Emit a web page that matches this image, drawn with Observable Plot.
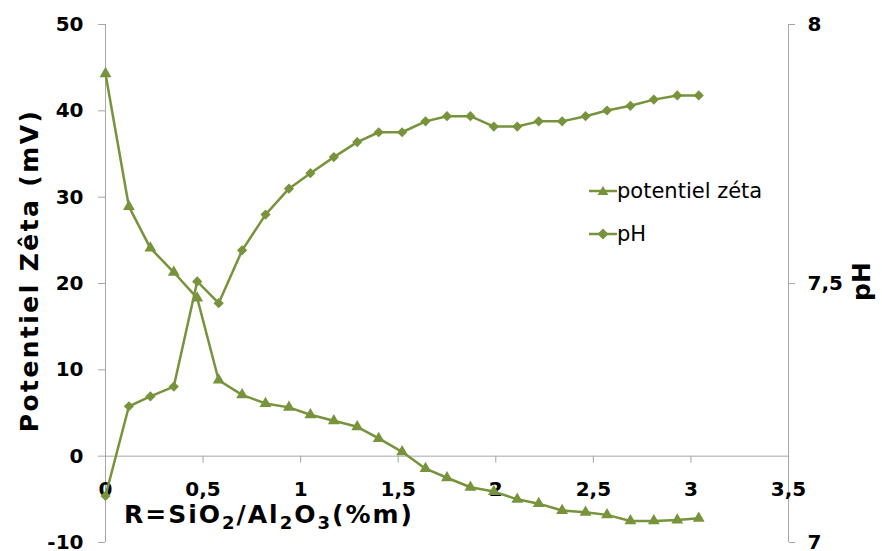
<!DOCTYPE html>
<html>
<head>
<meta charset="utf-8">
<script src="https://cdn.jsdelivr.net/npm/d3@7"></script>
<script src="https://cdn.jsdelivr.net/npm/@observablehq/plot@0.6"></script>
<style>
  html, body { margin: 0; padding: 0; background: #fff; }
  #wrap { position: relative; width: 882px; height: 551px; overflow: hidden; }
  #wrap svg { display: block; }
  #legend { position: absolute; left: 589px; top: 169px; font-family: "DejaVu Sans", sans-serif; font-size: 21px; color: #000; }
  #legend .item { display: flex; align-items: center; height: 43px; white-space: nowrap; }
</style>
</head>
<body>
<div id="wrap"></div>
<script>
// ---- data ----
const ratio = [0, 0.12, 0.23, 0.35, 0.47, 0.58, 0.70, 0.82, 0.94, 1.05, 1.17, 1.29, 1.40, 1.52,
               1.64, 1.75, 1.87, 1.99, 2.11, 2.22, 2.34, 2.46, 2.57, 2.69, 2.81, 2.93, 3.04];
const zeta = [44.3, 28.9, 24.1, 21.3, 18.3, 8.8, 7.1, 6.1, 5.65, 4.8, 4.1, 3.4, 2.05, 0.5,
              -1.45, -2.5, -3.6, -4.1, -5.0, -5.5, -6.3, -6.5, -6.8, -7.5, -7.5, -7.4, -7.2];
const pH = [7.09, 7.263, 7.282, 7.301, 7.504, 7.462, 7.564, 7.633, 7.683, 7.713, 7.744, 7.773, 7.792, 7.792,
            7.813, 7.823, 7.823, 7.803, 7.803, 7.813, 7.813, 7.823, 7.834, 7.843, 7.855, 7.863, 7.863];
const xTicks = [0, 0.5, 1, 1.5, 2, 2.5, 3, 3.5];
const zetaTicks = [-10, 0, 10, 20, 30, 40, 50];
const pHTicks = [7, 7.5, 8];
const seriesNames = ["potentiel zéta", "pH"];
const xTitle = "R=SiO2/Al2O3(%m)";
const yTitle = "Potentiel Zêta (mV)";
const y2Title = "pH";

// ---- helpers ----
const GREEN = "#77933C";
const GRAY = "#a6a6a6";
const FONT = "'DejaVu Sans', sans-serif";
const comma = d => String(+d.toFixed(3)).replace(".", ",");
const zetaDomain = [-10, 50];
const pHDomain = [7, 8];
const toLeft = p => zetaDomain[0] + (p - pHDomain[0]) / (pHDomain[1] - pHDomain[0]) * (zetaDomain[1] - zetaDomain[0]);
const fromLeft = v => pHDomain[0] + (v - zetaDomain[0]) / (zetaDomain[1] - zetaDomain[0]) * (pHDomain[1] - pHDomain[0]);

const zetaData = ratio.map((r, i) => ({x: r, y: zeta[i]}));
const pHData = ratio.map((r, i) => ({x: r, y: toLeft(pH[i])}));

const chart = Plot.plot({
  width: 882,
  height: 551,
  marginLeft: 105,
  marginRight: 94,
  marginTop: 24,
  marginBottom: 9,
  style: {fontFamily: FONT, fontSize: "20px", fontWeight: "bold", color: "#000", background: "#fff", overflow: "visible"},
  x: {domain: [0, 3.5], axis: null},
  y: {domain: zetaDomain, axis: null},
  marks: [
    // axis lines
    Plot.ruleX([0], {y1: zetaDomain[0], y2: zetaDomain[1], stroke: GRAY, strokeWidth: 1}),
    Plot.ruleX([3.5], {y1: zetaDomain[0], y2: zetaDomain[1], stroke: GRAY, strokeWidth: 1}),
    Plot.ruleY([0], {x1: 0, x2: 3.5, stroke: GRAY, strokeWidth: 1}),
    // left axis
    Plot.axisY(zetaTicks, {anchor: "left", label: null, tickSize: 7, tickPadding: 15, stroke: GRAY, tickFormat: d => String(d), fontWeight: "bold", fontSize: 20}),
    // right axis (pH)
    Plot.axisY(pHTicks.map(toLeft), {anchor: "right", label: null, tickSize: 6, tickPadding: 13, stroke: GRAY, tickFormat: d => comma(fromLeft(d)), fontWeight: "bold", fontSize: 20}),
    // x axis ticks at y = 0
    Plot.ruleX(xTicks, {x: d => d, y1: 0, y2: 0, insetBottom: -7, stroke: GRAY, strokeWidth: 1}),
    Plot.text(xTicks, {x: d => d, y: 0, text: d => comma(d), dy: 33, fontWeight: "bold", fontSize: 20, fill: "#000"}),
    // series
    Plot.line(pHData, {x: "x", y: "y", stroke: GREEN, strokeWidth: 2.5}),
    Plot.dot(pHData, {x: "x", y: "y", symbol: "diamond2", r: 4.6, fill: GREEN, stroke: "none"}),
    Plot.line(zetaData, {x: "x", y: "y", stroke: GREEN, strokeWidth: 2.5}),
    Plot.dot(zetaData, {x: "x", y: "y", symbol: "triangle", r: 4.4, fill: GREEN, stroke: "none"}),
    // titles
    Plot.text([yTitle], {frameAnchor: "left", textAnchor: "middle", rotate: -90, dx: -76, dy: -13, fontSize: 25, fontWeight: "bold", fill: "#000"}),
    Plot.text([y2Title], {frameAnchor: "right", textAnchor: "middle", rotate: -90, dx: 73, dy: -2, fontSize: 25, fontWeight: "bold", fill: "#000"}),
    Plot.text([xTitle], {frameAnchor: "bottom", textAnchor: "middle", dx: -178, dy: -20, fontSize: 25, fontWeight: "bold", fill: "#000"})
  ]
});

// letter spacing for the titles and subscripts for the chemical formula in the x title
for (const t of chart.querySelectorAll("text")) {
  if (t.textContent === yTitle) {
    t.style.letterSpacing = "2.4px";
  }
  if (t.textContent === xTitle) {
    t.style.letterSpacing = "2px";
    t.textContent = "";
    const parts = [["R=SiO", 0], ["2", 1], ["/Al", 0], ["2", 1], ["O", 0], ["3", 1], ["(%m)", 0]];
    let prev = 0;
    for (const [s, sub] of parts) {
      const ts = document.createElementNS("http://www.w3.org/2000/svg", "tspan");
      ts.textContent = s;
      const shift = sub ? 6 : 0;
      ts.setAttribute("dy", String(shift - prev));
      if (sub) ts.setAttribute("font-size", "18");
      prev = shift;
      t.appendChild(ts);
    }
  }
}

document.getElementById("wrap").appendChild(chart);

// legend
const legend = document.createElement("div");
legend.id = "legend";
const symbols = [
  '<path d="M14,2 L19.5,11 L8.5,11 Z" fill="' + GREEN + '"/>',
  '<path d="M14,1.5 L19.5,7 L14,12.5 L8.5,7 Z" fill="' + GREEN + '"/>'
];
seriesNames.forEach((name, i) => {
  const item = document.createElement("div");
  item.className = "item";
  item.innerHTML = '<svg width="28" height="14" viewBox="0 0 28 14"><line x1="0" y1="7" x2="28" y2="7" stroke="' + GREEN + '" stroke-width="2.5"/>' + symbols[i] + '</svg><span>' + name + '</span>';
  legend.appendChild(item);
});
document.getElementById("wrap").appendChild(legend);
</script>
</body>
</html>
